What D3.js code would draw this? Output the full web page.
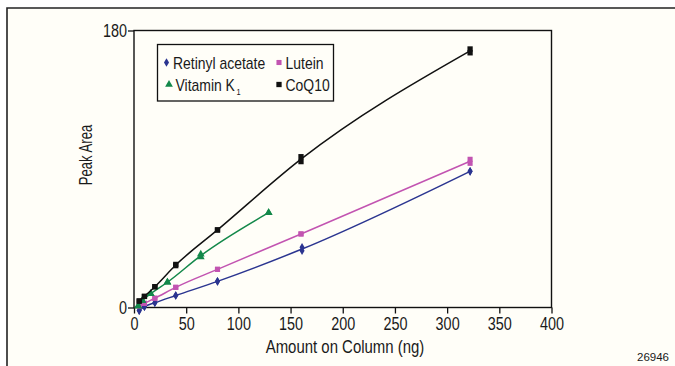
<!DOCTYPE html>
<html lang="en">
<head>
<meta charset="UTF-8">
<title>Peak Area vs Amount on Column</title>
<script src="https://d3js.org/d3.v7.min.js"></script>
<style>
  body { margin: 0; background: #fff; }
  text { font-family: "Liberation Sans", Arial, sans-serif; fill: #1a1a1a; }
</style>
</head>
<body>
<div id="chart"></div>
<script>
// amounts (ng) and peak areas, two replicates each
const retinylX = [5, 10, 20, 40, 80, 161, 322];
const retinylY1 = [-2.0, 0.5, 3.1, 7.8, 17.0, 39.1, 88.5];
const retinylY2 = [-2.0, 0.5, 3.1, 7.8, 17.0, 36.9, 88.5];

const luteinX = [5, 10, 20, 40, 80, 160, 322];
const luteinY1 = [1.0, 2.7, 6.0, 13.1, 24.8, 47.8, 96.3];
const luteinY2 = [1.0, 2.7, 6.0, 13.1, 24.8, 47.8, 93.7];

const vitkX = [4, 8, 16, 32, 64, 129];
const vitkY1 = [1.0, 4.5, 9.0, 16.4, 34.6, 61.6];
const vitkY2 = [1.0, 4.5, 9.0, 16.4, 32.8, 61.6];

const coqX = [5, 10, 20, 40, 80, 160, 322];
const coqY1 = [4.2, 7.2, 13.5, 28.0, 50.4, 98.0, 168.0];
const coqY2 = [4.2, 7.2, 13.5, 27.2, 50.4, 94.8, 165.5];

const xTicks = [0, 50, 100, 150, 200, 250, 300, 350, 400];
const yTicks = [0, 180];

const width = 675, height = 366;
const squeeze = 0.8; // reference uses a condensed face

const svg = d3.select("#chart").append("svg")
    .attr("width", width)
    .attr("height", height)
    .style("display", "block");

// squeeze text horizontally, keeps it as real text
function narrow(sel, f) {
    sel.each(function () {
        const w = this.getComputedTextLength();
        d3.select(this).attr("textLength", w * f).attr("lengthAdjust", "spacingAndGlyphs");
    });
}

// cream panel with a border on top and left
svg.append("rect").attr("x", 7).attr("y", 8).attr("width", width - 7).attr("height", height - 8)
    .attr("fill", "#fffef8");
svg.append("path").attr("d", `M7,${height} V8 H${width}`)
    .attr("fill", "none").attr("stroke", "#222").attr("stroke-width", 1.6);

const x = d3.scaleLinear().domain([0, 400]).range([134, 551.5]);
const y = d3.scaleLinear().domain([0, 180]).range([307.5, 30.5]);

// frame
svg.append("rect")
    .attr("x", x(0)).attr("y", y(180))
    .attr("width", x(400) - x(0)).attr("height", y(0) - y(180))
    .attr("fill", "none").attr("stroke", "#111").attr("stroke-width", 1.4);

const xAxis = svg.append("g")
    .attr("transform", `translate(0,${y(0)})`)
    .call(d3.axisBottom(x).tickValues(xTicks).tickSize(6).tickPadding(4).tickFormat(d3.format("d")));
xAxis.select(".domain").remove();

const yAxis = svg.append("g")
    .attr("transform", `translate(${x(0)},0)`)
    .call(d3.axisLeft(y).tickValues(yTicks).tickSize(6).tickPadding(1).tickFormat(d3.format("d")));
yAxis.select(".domain").remove();

svg.selectAll(".tick line").attr("stroke", "#111").attr("stroke-width", 1.3);
svg.selectAll(".tick text").attr("font-size", 18).attr("font-family", null).attr("fill", "#1a1a1a")
    .call(narrow, squeeze);

svg.append("text")
    .attr("x", 345).attr("y", 353)
    .attr("text-anchor", "middle")
    .attr("font-size", 18)
    .text("Amount on Column (ng)")
    .call(narrow, 0.83);

svg.append("text")
    .attr("transform", "translate(92,155) rotate(-90)")
    .attr("text-anchor", "middle")
    .attr("font-size", 17.5)
    .text("Peak Area")
    .call(narrow, 0.75);

svg.append("text")
    .attr("x", 669).attr("y", 361)
    .attr("text-anchor", "end")
    .attr("font-size", 11.5)
    .text("26946");

const series = [
    { name: "Retinyl acetate", xs: retinylX, y1: retinylY1, y2: retinylY2, color: "#2b3590", symbol: d3.symbolDiamond, size: 22 },
    { name: "Lutein", xs: luteinX, y1: luteinY1, y2: luteinY2, color: "#c254b1", symbol: d3.symbolSquare, size: 26 },
    { name: "Vitamin K", xs: vitkX, y1: vitkY1, y2: vitkY2, color: "#13884a", symbol: d3.symbolTriangle, size: 26 },
    { name: "CoQ10", xs: coqX, y1: coqY1, y2: coqY2, color: "#111111", symbol: d3.symbolSquare, size: 28 }
];

const line = d3.line()
    .x(d => x(d[0]))
    .y(d => y(d[1]))
    .curve(d3.curveMonotoneX);

series.forEach(s => {
    const mean = s.xs.map((v, i) => [v, (s.y1[i] + s.y2[i]) / 2]);
    const pts = s.xs.map((v, i) => [v, s.y1[i]]).concat(s.xs.map((v, i) => [v, s.y2[i]]));

    svg.append("path")
        .datum(mean)
        .attr("fill", "none")
        .attr("stroke", s.color)
        .attr("stroke-width", 1.5)
        .attr("d", line);

    svg.append("g").selectAll("path")
        .data(pts)
        .enter()
        .append("path")
        .attr("transform", d => `translate(${x(d[0])},${y(d[1])})`)
        .attr("d", d3.symbol().type(s.symbol).size(s.size))
        .attr("fill", s.color);
});

// legend
const legend = svg.append("g");
legend.append("rect")
    .attr("x", 157.5).attr("y", 44.5).attr("width", 176).attr("height", 56.5)
    .attr("fill", "none").attr("stroke", "#111").attr("stroke-width", 1.3);

const legendPos = [[166.5, 62.5], [279, 62.5], [169, 84.5], [279, 84.5]];
const legendSqueeze = 0.82;

series.forEach((s, i) => {
    const [lx, ly] = legendPos[i];
    legend.append("path")
        .attr("transform", `translate(${lx},${ly})`)
        .attr("d", d3.symbol().type(s.symbol).size(s.size))
        .attr("fill", s.color);
    const t = legend.append("text")
        .attr("x", lx + 6.5)
        .attr("y", ly + 6)
        .attr("font-size", 17)
        .text(s.name);
    const w = t.node().getComputedTextLength() * legendSqueeze;
    t.call(narrow, legendSqueeze);
    if (s.name === "Vitamin K") {
        legend.append("text")
            .attr("x", lx + 6.5 + w + 1.5)
            .attr("y", ly + 10)
            .attr("font-size", 9)
            .text("1")
            .call(narrow, legendSqueeze);
    }
});
</script>
</body>
</html>
